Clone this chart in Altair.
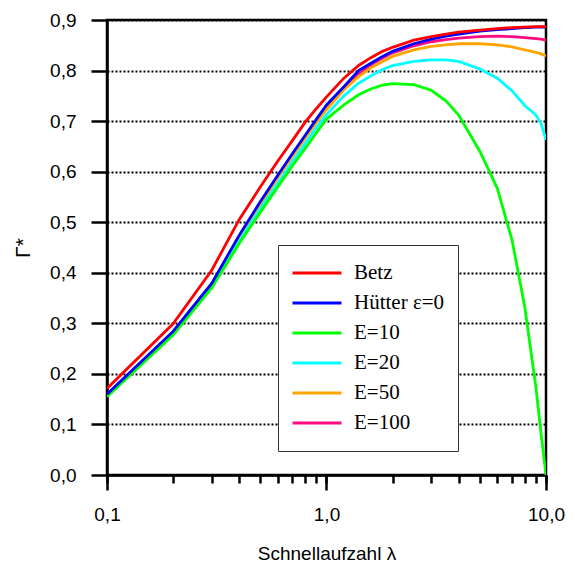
import altair as alt
import pandas as pd

lam = [0.1, 0.2, 0.3, 0.4, 0.5, 0.6, 0.7, 0.8, 0.9, 1.0, 1.2, 1.4, 1.6, 1.8, 2.0,
       2.5, 3.0, 3.5, 4.0, 5.0, 6.0, 7.0, 8.0, 9.0, 9.5, 10.0]

betz = [0.171, 0.299, 0.405, 0.505, 0.570, 0.621, 0.662, 0.698, 0.725, 0.748, 0.785,
        0.810, 0.826, 0.838, 0.846, 0.860, 0.867, 0.872, 0.876, 0.880, 0.883, 0.885,
        0.886, 0.887, 0.887, 0.887]
hutter = [0.160, 0.284, 0.379, 0.474, 0.541, 0.593, 0.636, 0.672, 0.704, 0.732, 0.768,
          0.800, 0.815, 0.828, 0.838, 0.853, 0.862, 0.868, 0.872, 0.878, 0.881, 0.883,
          0.885, 0.886, 0.886, 0.886]
e10 = [0.155, 0.277, 0.370, 0.458, 0.520, 0.570, 0.612, 0.646, 0.677, 0.704, 0.732,
       0.752, 0.764, 0.771, 0.774, 0.772, 0.761, 0.740, 0.712, 0.640, 0.567, 0.465,
       0.333, 0.173, 0.081, 0.0]
e20 = [0.156, 0.279, 0.373, 0.462, 0.527, 0.577, 0.620, 0.656, 0.687, 0.713, 0.750,
       0.775, 0.790, 0.802, 0.810, 0.818, 0.821, 0.821, 0.818, 0.803, 0.785, 0.760,
       0.731, 0.712, 0.695, 0.663]
e50 = [0.158, 0.281, 0.376, 0.468, 0.534, 0.588, 0.630, 0.666, 0.697, 0.723, 0.762,
       0.788, 0.806, 0.818, 0.828, 0.841, 0.848, 0.851, 0.853, 0.853, 0.851, 0.847,
       0.841, 0.836, 0.833, 0.829]
e100 = [0.159, 0.283, 0.378, 0.471, 0.537, 0.590, 0.633, 0.669, 0.700, 0.727, 0.766,
        0.794, 0.812, 0.825, 0.835, 0.849, 0.857, 0.861, 0.864, 0.867, 0.868, 0.867,
        0.865, 0.863, 0.862, 0.860]

series_names = ["Betz", "Hütter ε=0", "E=10", "E=20", "E=50", "E=100"]
series_colors = ["#ff0000", "#0000ff", "#00ff00", "#00ffff", "#ffa500", "#ff0a80"]
series_values = {"Betz": betz, "Hütter ε=0": hutter, "E=10": e10,
                 "E=20": e20, "E=50": e50, "E=100": e100}

y_ticks = [0.0, 0.1, 0.2, 0.3, 0.4, 0.5, 0.6, 0.7, 0.8, 0.9]
x_major = [0.1, 1.0, 10.0]
x_minor = [0.1, 0.2, 0.3, 0.4, 0.5, 0.6, 0.7, 0.8, 0.9, 1, 2, 3, 4, 5, 6, 7, 8, 9, 10]

draw_order = ["E=100", "E=50", "E=20", "E=10", "Hütter ε=0", "Betz"]
rows = []
for name in draw_order:
    for l, v in zip(lam, series_values[name]):
        rows.append({"lam": l, "gamma": v, "series": name})
df = pd.DataFrame(rows)

xscale = alt.Scale(type="log", domain=[0.1, 10], nice=False)
yscale = alt.Scale(domain=[0, 0.9], nice=False, zero=False)
comma_expr = "replace(format(datum.value, '.1f'), '.', ',')"

y_axis = alt.Axis(values=y_ticks, tickSize=16, labelPadding=15,
                  labelExpr=comma_expr, title="Γ*", titleX=-78, titleY=227.5,
                  titleBaseline="alphabetic", titleFontSize=21, grid=True,
                  gridDash=[2, 2], gridColor="black", gridWidth=2,
                  gridOpacity=1, orient="left")

minor = alt.Chart(df).mark_line(opacity=0).encode(
    x=alt.X("lam:Q", scale=xscale,
            axis=alt.Axis(values=x_minor, tickSize=8, labels=False, domain=False,
                          title=None, orient="bottom", grid=False, tickWidth=2.5)),
    y=alt.Y("gamma:Q", scale=yscale, axis=y_axis),
)

lines = alt.Chart(df).mark_line(strokeWidth=2.8, clip=True).encode(
    x=alt.X("lam:Q", scale=xscale,
            axis=alt.Axis(values=x_major, tickSize=15, labelExpr=comma_expr,
                          labelPadding=15, title="Schnellaufzahl λ", titleY=84,
                          titleBaseline="alphabetic", orient="bottom", grid=False,
                          labelFlush=False, labelOverlap=False)),
    y=alt.Y("gamma:Q", scale=yscale, axis=y_axis),
    color=alt.Color("series:N",
                    scale=alt.Scale(domain=series_names, range=series_colors),
                    legend=alt.Legend(title=None, orient="none", legendX=171,
                                      legendY=225, symbolType="stroke",
                                      symbolSize=2400, symbolStrokeWidth=3,
                                      labelFont="Liberation Serif", labelFontSize=21,
                                      labelColor="black", strokeColor="#333333",
                                      fillColor="white", padding=13, rowPadding=0,
                                      clipHeight=30, labelOffset=11, labelLimit=0)),
)

chart = alt.layer(minor, lines).resolve_axis(x="independent", y="shared").properties(
    width=439, height=455,
    padding={"left": 99, "top": 12, "right": 21, "bottom": 90},
    autosize=alt.AutoSizeParams(type="none"),
).configure_view(
    stroke="black", strokeWidth=2.5
).configure_axis(
    domainColor="black", domainWidth=2.5, tickColor="black", tickWidth=2.5,
    labelFont="Liberation Sans", labelFontSize=19, labelColor="black",
    titleFont="Liberation Sans", titleFontSize=19, titleColor="black",
    titleFontWeight="normal",
)

chart.save("out.html", embed_options={"renderer": "svg", "actions": False})
